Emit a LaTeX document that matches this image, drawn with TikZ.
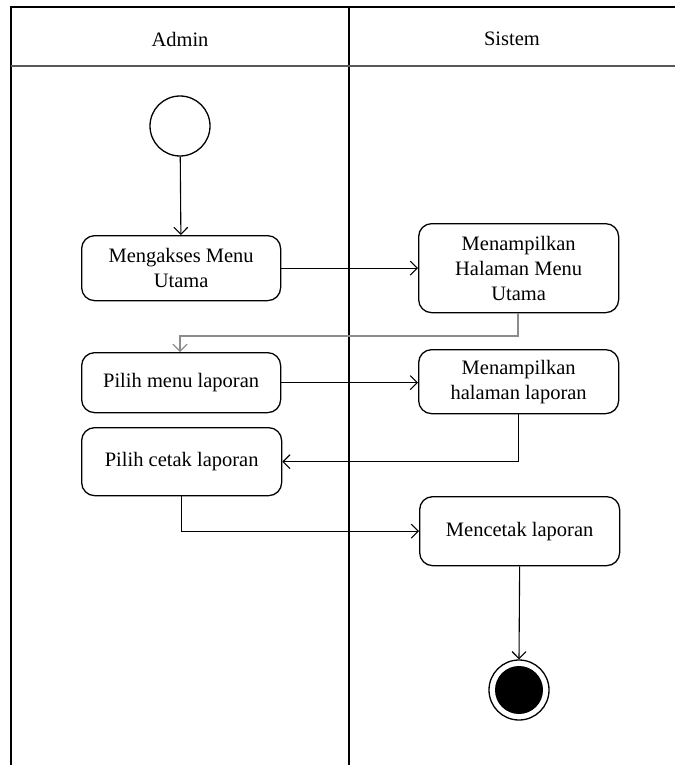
\documentclass[tikz,border=0pt]{standalone}
\usepackage{fontspec}
\setmainfont{Liberation Serif}
\usetikzlibrary{arrows.meta}
\begin{document}
\begin{tikzpicture}[x=1pt,y=-1pt,
  lane/.style={line width=2.2pt,black},
  act/.style={draw,line width=1.3pt,rounded corners=13pt,align=center,
    font=\fontsize{20.5}{25}\selectfont,inner sep=0pt,anchor=north west},
  flow/.style={line width=1.1pt,-{Straight Barb[length=7pt,width=14pt]}},
  hdr/.style={font=\fontsize{20.5}{25}\selectfont}]
\useasboundingbox (0,0) rectangle (675,765);
% swimlane frame
\draw[lane] (11,765) -- (11,7) -- (675,7);
\draw[lane] (349,7) -- (349,765);
\draw[line width=2pt,black!65] (11,66) -- (675,66);
\node[hdr] (hA) at (180,39) {Admin};
\node[hdr] (hS) at (512,39) {Sistem};
% start and end states
\node[draw,circle,line width=1.3pt,minimum size=60pt,inner sep=0pt] (start) at (180,126) {};
\node[draw,circle,line width=1.3pt,minimum size=60pt,inner sep=0pt] (stop) at (519,690) {};
\fill (stop.center) circle (24pt);
% activities
\node[act,minimum width=199pt,minimum height=65pt] (a1) at (81,235) {Mengakses Menu\\Utama};
\node[act,minimum width=200pt,minimum height=89pt] (s1) at (418,223) {Menampilkan\\Halaman Menu\\Utama};
\node[act,minimum width=199pt,minimum height=60pt] (a2) at (81,352) {Pilih menu laporan};
\node[act,minimum width=200pt,minimum height=64pt] (s2) at (418,349) {Menampilkan\\halaman laporan};
\node[act,minimum width=200pt,minimum height=68pt] (a3) at (81,427) {Pilih cetak laporan};
\node[act,minimum width=200pt,minimum height=69pt] (s3) at (419,496) {Mencetak laporan};
% control flow
\coordinate (g1) at (518,336);
\coordinate (g2) at (180,336);
\draw[flow] (start) -- (a1);
\draw[flow] (a1) -- (s1.west |- a1.east);
\draw[flow,black!45] (s1.south -| g1) -- (g1) -- (g2) -- (a2.north -| g2);
\draw[flow] (a2) -- (s2.west |- a2.east);
\draw[flow] (s2.south) |- (a3.east);
\draw[flow] (a3.south) |- (s3.west);
\draw[flow] (s3.south) -- (stop.north);
\end{tikzpicture}
\end{document}
